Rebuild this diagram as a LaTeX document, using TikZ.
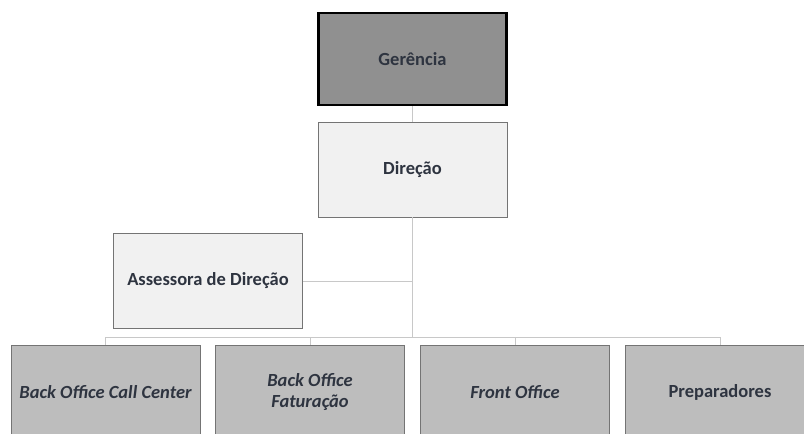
\documentclass[tikz,border=0pt]{standalone}
\usepackage{fontspec}
\setmainfont{Carlito}
\begin{document}
\begin{tikzpicture}[x=1pt,y=-1pt,
  box/.style={draw=boxline, line width=0.9pt, minimum width=189pt, minimum height=95pt, inner sep=2pt, align=center, font=\fontsize{18.5}{21}\selectfont\bfseries, text=txt, anchor=center},
  conn/.style={draw=connc, line width=1pt}]
\definecolor{boxline}{HTML}{747474}
\definecolor{txt}{HTML}{2E3440}
\definecolor{connc}{HTML}{C8C8C8}
\definecolor{darkf}{HTML}{909090}
\definecolor{lightf}{HTML}{F1F1F1}
\definecolor{midf}{HTML}{BDBDBD}
\useasboundingbox (0,0) rectangle (804,434);
\clip (0,0) rectangle (804,434);
\coordinate (bus) at (412.5,337);
\coordinate (b1) at (105.5,337);
\coordinate (b4) at (720,337);
\coordinate (ja) at (412.5,281);
\node[box, fill=lightf] (dir) at (412.5,169.5) {Direção};
\node[box, fill=lightf] (ass) at (208,281) {Assessora de Direção};
\node[box, fill=midf] (bo1) at (105.5,392.5) {\itshape Back Office Call Center};
\node[box, fill=midf] (bo2) at (310,392.5) {\itshape Back Office\\\itshape Faturação};
\node[box, fill=midf] (fo) at (515,392.5) {\itshape Front Office};
\node[box, fill=midf] (prep) at (720,392.5) {Preparadores};
\node[box, fill=darkf, draw=black, line width=2.4pt, minimum width=188pt, minimum height=92pt] (ger) at (412.5,59) {Gerência};
\draw[conn] (ger.south) -- (dir.north);
\draw[conn] (dir.south) -- (bus);
\draw[conn] (ass.east) -- (ja);
\draw[conn] (b1) -- (b4);
\draw[conn] (b1) -- (bo1.north);
\draw[conn] (bo2.north |- bus) -- (bo2.north);
\draw[conn] (fo.north |- bus) -- (fo.north);
\draw[conn] (b4) -- (prep.north);
\end{tikzpicture}
\end{document}
